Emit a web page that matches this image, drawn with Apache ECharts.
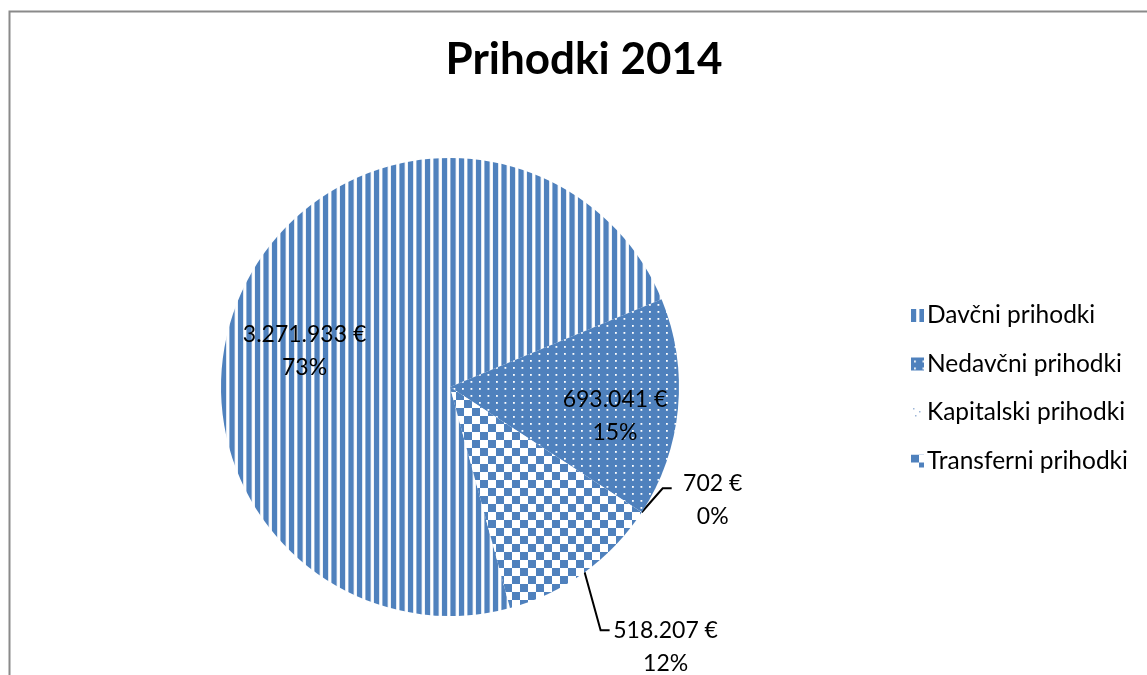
<!DOCTYPE html>
<html>
<head>
<meta charset="utf-8">
<script src="https://cdn.jsdelivr.net/npm/echarts@6/dist/echarts.min.js"></script>
<style>
html,body{margin:0;padding:0;background:#fff;}
#c{width:1147px;height:675px;}
</style>
</head>
<body>
<div id="c"></div>
<script>
const titleText = 'Prihodki 2014';
const categories = ['Davčni prihodki', 'Nedavčni prihodki', 'Kapitalski prihodki', 'Transferni prihodki'];
const values = [3271933, 693041, 702, 518207];

const BLUE = '#4F81BD';
const FONT = 'Lato';

function mkCanvas(w, h, draw) {
  const c = document.createElement('canvas');
  c.width = w; c.height = h;
  draw(c.getContext('2d'));
  return c;
}
const stripes = mkCanvas(17, 4, g => {
  g.fillStyle = BLUE; g.fillRect(0, 0, 17, 4);
  g.fillStyle = '#c9d7ea'; g.fillRect(5, 0, 1, 4); g.fillRect(13.5, 0, 1, 4);
  g.fillStyle = '#ffffff'; g.fillRect(5.6, 0, 2.8, 4); g.fillRect(14.1, 0, 2.8, 4);
});
const dots = mkCanvas(17, 14, g => {
  g.fillStyle = BLUE; g.fillRect(0, 0, 17, 14);
  g.fillStyle = '#ffffff';
  [[3, 3], [11.5, 3], [3, 10], [11.5, 10]].forEach(p => g.fillRect(p[0], p[1], 1.8, 1.8));
});
const sparse = mkCanvas(12, 12, g => {
  g.fillStyle = '#ffffff'; g.fillRect(0, 0, 12, 12);
  g.fillStyle = '#9db6d8';
  [[2, 2], [8, 5], [4, 9]].forEach(p => g.fillRect(p[0], p[1], 1.5, 1.5));
});
const checker = mkCanvas(16, 16, g => {
  g.fillStyle = '#ffffff'; g.fillRect(0, 0, 16, 16);
  g.fillStyle = BLUE; g.fillRect(0, 0, 8, 8); g.fillRect(8, 8, 8, 8);
});
const patterns = [stripes, dots, sparse, checker];

function fmt(v) {
  return String(v).replace(/\B(?=(\d{3})+(?!\d))/g, '.') + ' €';
}

// label placement tweaks (offsets in px)
const insideShift = { 0: [-40, 16], 1: [48, 18] };
const outsideCfg = {
  2: { label: [71, -12], line: [[21, -24], [30, -24]] },
  3: { label: [81, 75], line: [[16, 58], [25, 58]] }
};

const data = categories.map((name, i) => {
  const outside = outsideCfg[i] !== undefined;
  return {
    name: name,
    value: values[i],
    itemStyle: { color: { image: patterns[i], repeat: 'repeat' } },
    label: { position: outside ? 'outside' : 'inside' },
    labelLine: { show: outside, length: 20, length2: 10 }
  };
});

const chart = echarts.init(document.getElementById('c'), null, { renderer: 'canvas' });
chart.setOption({
  backgroundColor: '#ffffff',
  animation: false,
  title: {
    text: titleText,
    left: 579,
    textAlign: 'center',
    top: 33,
    textStyle: { fontFamily: FONT, fontSize: 44, fontWeight: 'bold', color: '#000' }
  },
  graphic: [{
    type: 'rect', left: 7, top: 9,
    shape: { width: 1300, height: 900 },
    style: { fill: 'none', stroke: '#8a8a8a', lineWidth: 2 },
    silent: true, z: -1
  }],
  legend: {
    orient: 'vertical',
    left: 906,
    top: 298,
    itemWidth: 13,
    itemHeight: 13,
    itemGap: 23.5,
    icon: 'rect',
    textStyle: { fontFamily: FONT, fontSize: 24.5, color: '#000', padding: [0, 0, 0, -2] },
    data: categories
  },
  series: [{
    type: 'pie',
    center: [450, 387],
    radius: 229,
    startAngle: 285.2,
    clockwise: true,
    avoidLabelOverlap: false,
    data: data,
    label: {
      fontFamily: FONT,
      fontSize: 23,
      color: '#000',
      lineHeight: 33,
      align: 'center',
      formatter: p => fmt(p.value) + '\n' + Math.round(p.percent) + '%'
    },
    labelLine: { lineStyle: { color: '#000', width: 2 } },
    itemStyle: { borderWidth: 0 },
    emphasis: { disabled: true },
    labelLayout: function (params) {
      const i = params.dataIndex;
      if (insideShift[i]) {
        return { dx: insideShift[i][0], dy: insideShift[i][1] };
      }
      const cfg = outsideCfg[i];
      if (cfg && params.labelLinePoints) {
        const p0 = params.labelLinePoints[0];
        return {
          x: p0[0] + cfg.label[0],
          y: p0[1] + cfg.label[1],
          align: 'center',
          verticalAlign: 'middle',
          labelLinePoints: [p0].concat(cfg.line.map(d => [p0[0] + d[0], p0[1] + d[1]]))
        };
      }
      return {};
    }
  }]
});
</script>
</body>
</html>
